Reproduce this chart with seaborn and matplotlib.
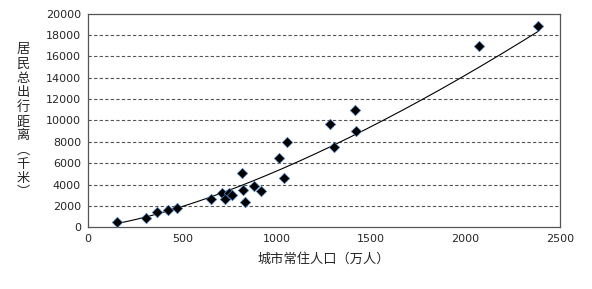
import numpy as np
import pandas as pd
import matplotlib
matplotlib.use("Agg")
import matplotlib.pyplot as plt
import seaborn as sns

# 城市常住人口（万人） vs 居民总出行距离（千米）
population = [155, 305, 364, 425, 470, 650, 711, 724, 745, 761,
              817, 821, 830, 879, 918, 1013, 1040, 1056,
              1280, 1301, 1416, 1419, 2071, 2383]
distance = [470, 850, 1450, 1650, 1780, 2680, 3180, 2650, 3250, 3020,
            5110, 3520, 2370, 3900, 3430, 6490, 4590, 7960,
            9700, 7490, 10980, 9020, 16950, 18850]

x_ticks = [0, 500, 1000, 1500, 2000, 2500]
y_ticks = list(range(0, 20001, 2000))
x_label = "城市常住人口（万人）"
y_label = "居民总出行距离︵千米︶"

df = pd.DataFrame({"pop": population, "dist": distance})

# power trend line, fitted in log space
b, log_a = np.polyfit(np.log(df["pop"]), np.log(df["dist"]), 1)
trend_x = np.linspace(df["pop"].min(), df["pop"].max(), 200)
trend = pd.DataFrame({"pop": trend_x, "dist": np.exp(log_a) * trend_x ** b})

sns.set_style("white")
plt.rcParams["font.family"] = ["Noto Sans CJK SC", "DejaVu Sans"]

fig = plt.figure(figsize=(5.92, 2.89), dpi=100)
ax = fig.add_axes([0.1486, 0.2135, 0.7973, 0.7391])

sns.lineplot(data=trend, x="pop", y="dist", ax=ax, color="black", linewidth=0.8)
sns.scatterplot(data=df, x="pop", y="dist", ax=ax, marker="D", s=28,
                color="black", edgecolor="#4a7ebb", linewidth=0.5, zorder=3)

ax.set_xlim(0, 2500)
ax.set_ylim(0, 20000)
ax.set_xticks(x_ticks)
ax.set_yticks(y_ticks)
ax.set_xticklabels([str(t) for t in x_ticks], fontfamily="DejaVu Sans", fontsize=8)
ax.set_yticklabels([str(t) for t in y_ticks], fontfamily="DejaVu Sans", fontsize=8)
ax.tick_params(axis="both", direction="out", length=3, width=0.8, color="#555555", pad=2)

for y in y_ticks[1:-1]:
    ax.axhline(y, color="#555555", linestyle=(0, (3, 2)), linewidth=0.8, zorder=1)

for side in ax.spines.values():
    side.set_color("#555555")
    side.set_linewidth(0.9)

ax.set_xlabel(x_label, fontsize=9.5, labelpad=6)
ax.set_ylabel("")

# vertical stacked y title, one glyph at a time
top_px, step_px = 50, 14.3
for i, ch in enumerate(y_label):
    fig.text(23 / 592, 1 - (top_px + i * step_px) / 289, ch,
             ha="center", va="center", fontsize=9.5)

fig.savefig("out.png", dpi=100)
plt.close(fig)
